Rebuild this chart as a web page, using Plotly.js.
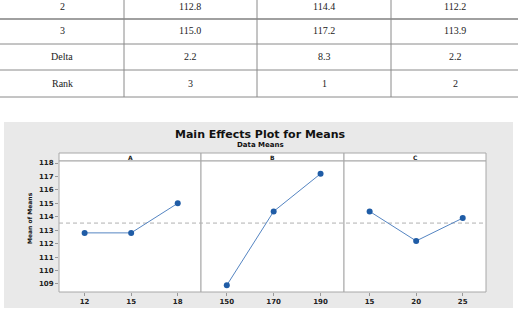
<!DOCTYPE html>
<html><head><meta charset="utf-8">
<script src="https://cdn.plot.ly/plotly-3.0.1.min.js"></script>
<style>html,body{margin:0;padding:0;background:#fff}#c{width:518px;height:310px}</style>
</head><body><div id="c"></div>
<script>
// Table data
const tableRowLabels = ["2", "3", "Delta", "Rank"];
const tableColA = ["112.8", "115.0", "2.2", "3"];
const tableColB = ["114.4", "117.2", "8.3", "1"];
const tableColC = ["112.2", "113.9", "2.2", "2"];

// Main effects data
const factorNames = ["A", "B", "C"];
const levelsA = ["12", "15", "18"];
const meansA = [112.8, 112.8, 115.0];
const levelsB = ["150", "170", "190"];
const meansB = [108.9, 114.4, 117.2];
const levelsC = ["15", "20", "25"];
const meansC = [114.4, 112.2, 113.9];
const yTicks = [109, 110, 111, 112, 113, 114, 115, 116, 117, 118];
const overallMean = 113.53;

const W = 518, H = 310;
const px = x => x / W, py = y => 1 - y / H;

const shapes = [];
const annotations = [];
const lineCol = "#8a8a8a";
// table lines
const hLines = [19, 44, 70, 97];
hLines.forEach((y, i) => shapes.push({type: "line", xref: "paper", yref: "paper", x0: 0, x1: 1, y0: py(y), y1: py(y),
  line: {color: i === 0 ? "#a0a0a0" : lineCol, width: i === 0 ? 2 : 1}}));
const vLines = [124, 257, 391];
vLines.forEach(x => shapes.push({type: "line", xref: "paper", yref: "paper", x0: px(x), x1: px(x), y0: py(0), y1: py(97),
  line: {color: lineCol, width: 1}}));
const colCenters = [62, 190, 324, 455];
const rowCenters = [6, 31, 57, 83];
const cols = [tableRowLabels, tableColA, tableColB, tableColC];
cols.forEach((col, ci) => col.forEach((t, ri) => annotations.push({
  xref: "paper", yref: "paper", x: px(colCenters[ci]), y: py(rowCenters[ri]), text: t, showarrow: false,
  xanchor: "center", yanchor: "middle", font: {family: "Liberation Serif", size: 10, color: "#222"}
})));

// grey chart background
shapes.push({type: "rect", xref: "paper", yref: "paper", x0: px(4), x1: px(513), y0: py(122), y1: py(308),
  fillcolor: "#e9e9e9", line: {width: 0}, layer: "below"});

const panelX = [[59, 201], [201, 344], [344, 486]];
const plotTop = 161, plotBot = 292, stripTop = 153;
panelX.forEach((p, i) => {
  shapes.push({type: "rect", xref: "paper", yref: "paper", x0: px(p[0]), x1: px(p[1]), y0: py(stripTop), y1: py(plotTop),
    fillcolor: "#ffffff", line: {color: "#a8a8a8", width: 1}, layer: "below"});
  shapes.push({type: "rect", xref: "paper", yref: "paper", x0: px(p[0]), x1: px(p[1]), y0: py(plotTop), y1: py(plotBot),
    fillcolor: "#ffffff", line: {color: "#a8a8a8", width: 1}, layer: "below"});
  annotations.push({xref: "paper", yref: "paper", x: px((p[0] + p[1]) / 2), y: py(157), text: "<b>" + factorNames[i] + "</b>",
    showarrow: false, xanchor: "center", yanchor: "middle", font: {family: "DejaVu Sans", size: 6, color: "#222"}});
});
// reference line
shapes.push({type: "line", xref: "paper", yref: "y", x0: px(59), x1: px(486), y0: overallMean, y1: overallMean,
  line: {color: "#b0b0b0", width: 1, dash: "4px,3px"}, layer: "below"});

annotations.push({xref: "paper", yref: "paper", x: px(260), y: py(134), text: "<b>Main Effects Plot for Means</b>",
  showarrow: false, xanchor: "center", yanchor: "middle", font: {family: "DejaVu Sans", size: 11, color: "#111"}});
annotations.push({xref: "paper", yref: "paper", x: px(260), y: py(145), text: "<b>Data Means</b>",
  showarrow: false, xanchor: "center", yanchor: "middle", font: {family: "DejaVu Sans", size: 7, color: "#111"}});
annotations.push({xref: "paper", yref: "paper", x: px(29), y: py(218), text: "<b>Mean of Means</b>", textangle: -90,
  showarrow: false, xanchor: "center", yanchor: "middle", font: {family: "DejaVu Sans", size: 6, color: "#111"}});

const mk = {color: "#1f5ca6", size: 6};
const ln = {color: "#5585c2", width: 1};
const data = [
  {x: levelsA, y: meansA, xaxis: "x", yaxis: "y", mode: "lines+markers", marker: mk, line: ln},
  {x: levelsB, y: meansB, xaxis: "x2", yaxis: "y", mode: "lines+markers", marker: mk, line: ln},
  {x: levelsC, y: meansC, xaxis: "x3", yaxis: "y", mode: "lines+markers", marker: mk, line: ln}
];
const tickFont = {family: "DejaVu Sans", size: 7, color: "#222"};
const xa = (i, lv) => ({
  domain: [px(panelX[i][0]), px(panelX[i][1])], type: "category", range: [-0.55, 2.5], anchor: "y",
  tickvals: lv, ticktext: lv.map(t => "<b>" + t + "</b>"), tickfont: tickFont, showgrid: false, zeroline: false,
  ticks: "outside", ticklen: 3, tickcolor: "#999", showline: false, fixedrange: true
});
const layout = {
  width: W, height: H, margin: {l: 0, r: 0, t: 0, b: 0}, showlegend: false,
  paper_bgcolor: "#ffffff", plot_bgcolor: "rgba(0,0,0,0)",
  xaxis: xa(0, levelsA), xaxis2: xa(1, levelsB), xaxis3: xa(2, levelsC),
  yaxis: {domain: [py(plotBot), py(plotTop)], range: [108.4, 118.15], tickvals: yTicks,
    ticktext: yTicks.map(t => "<b>" + t + "</b>"), tickfont: tickFont, showgrid: false, zeroline: false,
    ticks: "outside", ticklen: 3, tickcolor: "#999", anchor: "x", fixedrange: true},
  shapes: shapes, annotations: annotations
};
Plotly.newPlot("c", data, layout, {displayModeBar: false, staticPlot: true});
</script></body></html>
